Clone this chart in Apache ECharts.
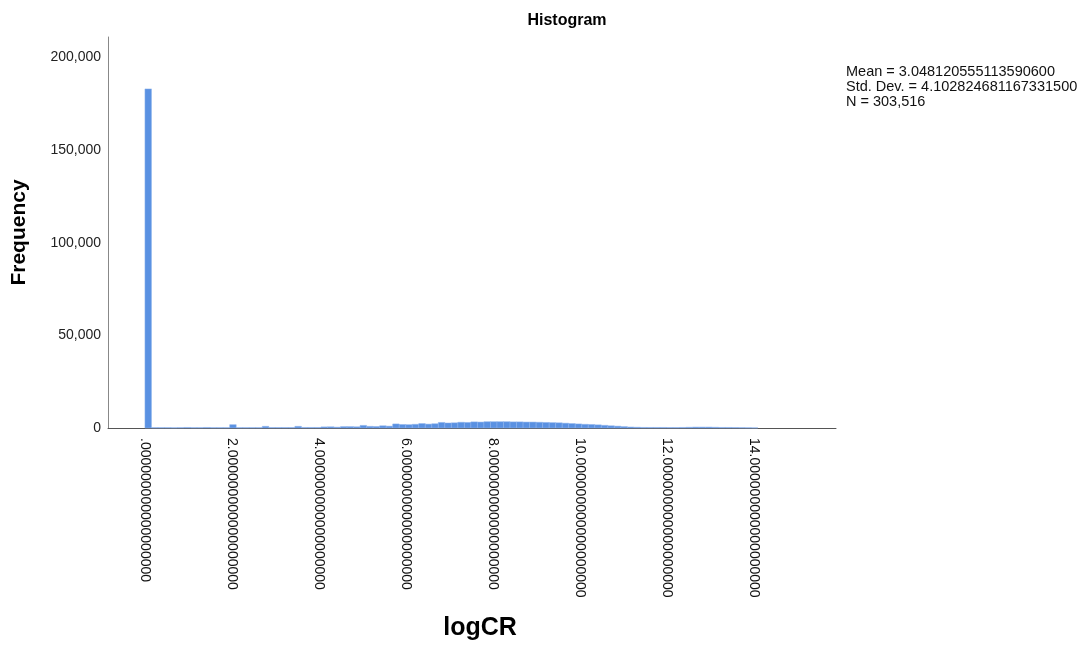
<!DOCTYPE html>
<html>
<head>
<meta charset="utf-8">
<script src="https://cdn.jsdelivr.net/npm/echarts@6/dist/echarts.min.js"></script>
<style>
  html, body { margin: 0; padding: 0; background: #fff; }
  #chart { width: 1085px; height: 645px; }
</style>
</head>
<body>
<div id="chart"></div>
<script>
// ---- data ----
const binStart = 0;          // left edge of first bin
const binWidth = 0.15;       // histogram bin width (logCR units)
const frequencies = [
  183000, 200, 200, 200, 150, 200, 300, 200, 200, 300, 200, 200, 200, 1800, 200,
  200, 200, 200, 900, 250, 250, 250, 250, 900, 300, 300, 300, 600, 650, 450,
  750, 750, 650, 1400, 900, 800, 1200, 1000, 2200, 1900, 1800, 2000, 2400, 2100, 2300,
  3000, 2700, 2800, 3100, 3000, 3300, 3200, 3400, 3400, 3400, 3400, 3300, 3300, 3200, 3200,
  3100, 3000, 2900, 2800, 2600, 2400, 2200, 2000, 1900, 1700, 1450, 1200, 1000, 750, 550,
  420, 320, 300, 300, 300, 250, 250, 300, 400, 500, 500, 500, 400, 300, 300,
  250, 200, 150, 100
];
const xTickValues = [0, 2, 4, 6, 8, 10, 12, 14];
const yTickValues = [0, 50000, 100000, 150000, 200000];
const statsLines = [
  'Mean = 3.048120555113590600',
  'Std. Dev. = 4.102824681167331500',
  'N = 303,516'
];
const xMin = -0.85, xMax = 15.9, yMax = 211000;

// ---- build ----
const histData = frequencies.map((f, i) => [binStart + i * binWidth, binStart + (i + 1) * binWidth, f]);
const FONT = '"Liberation Sans", Arial, Helvetica, sans-serif';

function fmtX(v) {
  const s = v.toFixed(18);
  return v === 0 ? s.slice(1) : s;
}

const chart = echarts.init(document.getElementById('chart'), null, { renderer: 'canvas' });
chart.setOption({
  animation: false,
  backgroundColor: '#ffffff',
  textStyle: { fontFamily: FONT },
  title: {
    text: 'Histogram',
    left: 562, top: 8, textAlign: 'center',
    textStyle: { fontFamily: FONT, fontSize: 16, fontWeight: 'bold', color: '#000' }
  },
  grid: { left: 108, right: 249, top: 37, bottom: 217, containLabel: false, outerBoundsMode: 'none' },
  xAxis: {
    type: 'value',
    min: xMin, max: xMax,
    name: 'logCR', nameLocation: 'middle', nameGap: 188,
    nameTextStyle: { fontFamily: FONT, fontSize: 25, fontWeight: 'bold', color: '#000', padding: [0, 0, 0, 16] },
    axisLine: { show: true, onZero: false, lineStyle: { color: '#555', width: 1 } },
    axisTick: { show: false },
    splitLine: { show: false },
    axisLabel: {
      customValues: xTickValues,
      rotate: -90, margin: 10,
      fontFamily: FONT, fontSize: 14, color: '#111',
      formatter: v => fmtX(v)
    }
  },
  yAxis: {
    type: 'value',
    min: 0, max: yMax,
    name: 'Frequency', nameLocation: 'middle', nameGap: 78,
    nameTextStyle: { fontFamily: FONT, fontSize: 21, fontWeight: 'bold', color: '#000' },
    axisLine: { show: true, onZero: false, lineStyle: { color: '#888', width: 1 } },
    axisTick: { show: false },
    splitLine: { show: false },
    axisLabel: {
      customValues: yTickValues,
      margin: 7,
      fontFamily: FONT, fontSize: 14, color: '#222',
      formatter: v => v.toLocaleString('en-US')
    }
  },
  graphic: [{
    type: 'text',
    left: 846, top: 64,
    style: {
      text: statsLines.join('\n'),
      font: '14.5px ' + FONT,
      lineHeight: 15,
      fill: '#111'
    }
  }],
  series: [{
    type: 'custom',
    data: histData,
    encode: { x: [0, 1], y: 2 },
    renderItem: function (params, api) {
      const p0 = api.coord([api.value(0), api.value(2)]);
      const p1 = api.coord([api.value(1), 0]);
      return {
        type: 'rect',
        shape: { x: p0[0], y: p0[1], width: p1[0] - p0[0], height: p1[1] - p0[1] },
        style: { fill: '#5a91e2', stroke: '#8db3ec', lineWidth: 0.5 }
      };
    }
  }]
});
</script>
</body>
</html>
